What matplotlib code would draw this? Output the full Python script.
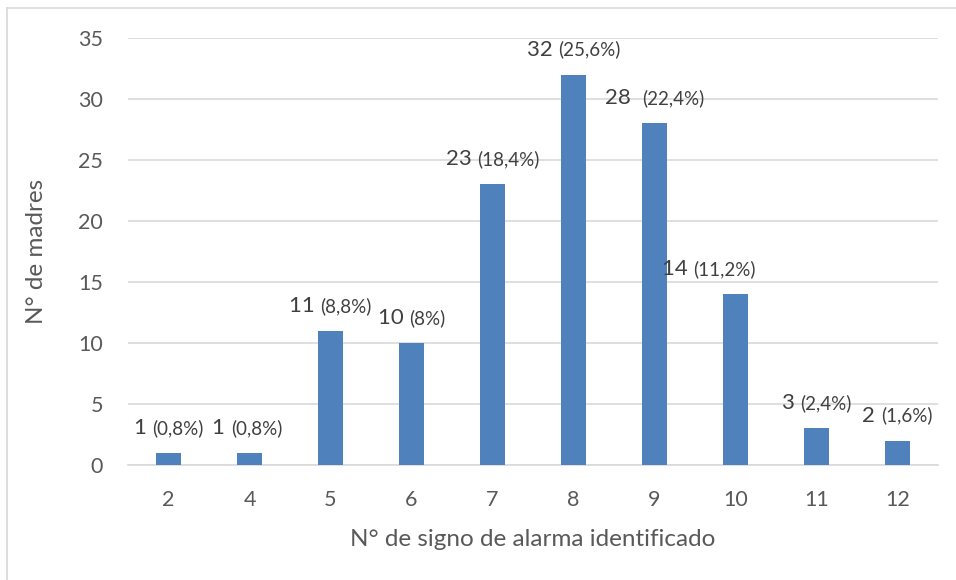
import matplotlib.pyplot as plt
from matplotlib.offsetbox import TextArea, HPacker, AnnotationBbox
from matplotlib.lines import Line2D

# datos
categorias = ['2', '4', '5', '6', '7', '8', '9', '10', '11', '12']
madres = [1, 1, 11, 10, 23, 32, 28, 14, 3, 2]
porcentajes = ['(0,8%)', '(0,8%)', '(8,8%)', '(8%)', '(18,4%)', '(25,6%)',
               '(22,4%)', '(11,2%)', '(2,4%)', '(1,6%)']
# desplazamiento horizontal de las etiquetas (pixeles)
desp_x = [0, -2, 0, 0, 0, 0, 0, -27, 0, 0]

plt.rcParams['font.family'] = ['Lato', 'DejaVu Sans']
gris = '#595959'
azul = '#4F81BD'

fig = plt.figure(figsize=(9.56, 5.8), dpi=100)
ax = fig.add_axes([128 / 956, 1 - 465 / 580, (938 - 128) / 956, (465 - 38) / 580])

x = list(range(len(categorias)))
ax.bar(x, madres, width=0.32, color=azul, zorder=3)

ax.set_ylim(0, 35)
ax.set_xlim(-0.5, len(categorias) - 0.5)
ax.set_yticks(range(0, 36, 5))
ax.set_xticks(x)
ax.set_xticklabels(categorias)
ax.grid(axis='y', color='#D9D9D9', linewidth=1.2, zorder=0)
for s in ['top', 'right', 'left']:
    ax.spines[s].set_visible(False)
ax.spines['bottom'].set_color('#D9D9D9')
ax.spines['bottom'].set_linewidth(1.2)
ax.tick_params(length=0, labelsize=15.5, labelcolor=gris, pad=18)
ax.tick_params(axis='y', pad=18)

ax.set_xlabel('N° de signo de alarma identificado', fontsize=17.5, color=gris, labelpad=14)
ax.set_ylabel('N° de madres', fontsize=17.5, color=gris, labelpad=22)

# etiquetas de datos
for i, v in enumerate(madres):
    sep = '  ' if categorias[i] == '9' else ' '
    t1 = TextArea(str(v) + sep, textprops=dict(fontsize=16, color='#404040'))
    t2 = TextArea(porcentajes[i], textprops=dict(fontsize=13.5, color='#404040'))
    caja = HPacker(children=[t1, t2], align='baseline', pad=0, sep=0)
    ab = AnnotationBbox(caja, (i, v), xybox=(desp_x[i], 25), boxcoords='offset pixels',
                        box_alignment=(0.5, 0.5), frameon=False, annotation_clip=False)
    ax.add_artist(ab)

# marco del grafico
fig.add_artist(Line2D([7 / 956, 7 / 956], [0, 1 - 8 / 580], transform=fig.transFigure,
                      color='#D9D9D9', linewidth=1.2))
fig.add_artist(Line2D([7 / 956, 1], [1 - 8 / 580, 1 - 8 / 580], transform=fig.transFigure,
                      color='#D9D9D9', linewidth=1.2))

fig.savefig('out.png', dpi=100)
